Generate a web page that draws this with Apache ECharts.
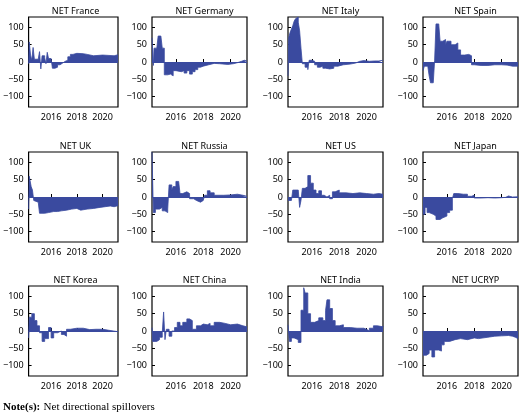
<!DOCTYPE html><html><head><meta charset="utf-8"><script src="https://cdn.jsdelivr.net/npm/echarts@6/dist/echarts.min.js"></script></head><body style="margin:0"><div id="c" style="width:520px;height:415px"></div><script>
const names=["NET France","NET Germany","NET Italy","NET Spain","NET UK","NET Russia","NET US","NET Japan","NET Korea","NET China","NET India","NET UCRYP"];
const france=[[2014.25,-5],[2014.3,58],[2014.4,20],[2014.5,5],[2014.6,42],[2014.7,8],[2015.0,8],[2015.1,30],[2015.2,-20],[2015.3,18],[2015.5,12],[2015.6,-5],[2015.7,28],[2015.8,10],[2016.0,10],[2016.1,-18],[2016.3,-15],[2016.5,-8],[2016.7,-3],[2016.9,2],[2017.1,5],[2017.3,15],[2017.5,22],[2017.7,25],[2018.0,24],[2018.5,22],[2018.8,18],[2019.3,20],[2020.0,19],[2020.5,18],[2020.9,21],[2021.2,21]];
const germany=[[2014.25,70],[2014.35,-10],[2014.4,40],[2014.6,45],[2014.7,75],[2014.9,70],[2015.0,40],[2015.15,-37],[2015.4,-35],[2015.6,-40],[2015.8,-25],[2016.0,-28],[2016.4,-25],[2016.6,-32],[2016.8,-25],[2017.0,-35],[2017.2,-28],[2017.4,-22],[2017.6,-15],[2017.8,-12],[2018.0,-8],[2018.4,-4],[2018.8,-5],[2019.2,-7],[2019.8,-5],[2020.2,-2],[2020.5,2],[2020.8,5],[2021.0,3],[2021.2,3]];
const italy=[[2014.25,-40],[2014.3,70],[2014.4,85],[2014.5,95],[2014.6,105],[2014.7,118],[2014.8,125],[2014.9,130],[2015.0,115],[2015.1,90],[2015.2,40],[2015.3,-5],[2015.5,-15],[2015.7,-22],[2015.8,5],[2016.0,2],[2016.2,-8],[2016.4,-15],[2016.6,-12],[2016.8,-18],[2017.0,-20],[2017.3,-18],[2017.6,-12],[2017.9,-8],[2018.3,-6],[2018.8,-3],[2019.2,2],[2019.5,4],[2019.8,2],[2020.2,3],[2020.6,3],[2020.9,5],[2021.2,6]];
const spain=[[2014.25,-25],[2014.35,-12],[2014.6,-15],[2014.7,-40],[2014.8,-60],[2015.0,-55],[2015.1,5],[2015.2,110],[2015.4,105],[2015.5,60],[2015.7,65],[2015.9,50],[2016.0,60],[2016.3,50],[2016.6,55],[2016.8,35],[2017.0,20],[2017.3,22],[2017.6,18],[2017.8,-8],[2018.0,-10],[2018.5,-10],[2019.0,-8],[2019.5,-8],[2020.0,-9],[2020.4,-12],[2020.8,-12],[2021.2,-12]];
const uk=[[2014.25,-35],[2014.3,60],[2014.45,30],[2014.55,20],[2014.65,-10],[2014.75,-15],[2015.0,-18],[2015.1,-47],[2015.5,-45],[2015.8,-42],[2016.2,-42],[2016.5,-40],[2016.8,-38],[2017.2,-35],[2017.6,-33],[2018.0,-38],[2018.3,-35],[2018.8,-33],[2019.3,-30],[2019.8,-28],[2020.2,-26],[2020.6,-28],[2020.9,-25],[2021.2,-25]];
const russia=[[2014.25,130],[2014.35,-45],[2014.5,-35],[2014.8,-30],[2015.0,-40],[2015.2,-45],[2015.4,-35],[2015.5,35],[2015.7,20],[2015.8,30],[2016.0,45],[2016.2,40],[2016.3,10],[2016.5,15],[2016.8,10],[2017.0,-5],[2017.3,-10],[2017.5,-15],[2017.8,-10],[2018.0,-5],[2018.1,5],[2018.3,18],[2018.5,12],[2018.8,5],[2019.5,6],[2020.0,8],[2020.5,5],[2020.9,2],[2021.2,2]];
const us=[[2014.25,-10],[2014.5,-8],[2014.6,20],[2015.0,20],[2015.1,-30],[2015.2,-10],[2015.3,25],[2015.5,30],[2015.7,62],[2015.9,40],[2016.1,20],[2016.3,10],[2016.5,18],[2016.7,5],[2016.9,0],[2017.1,5],[2017.3,-5],[2017.5,15],[2017.7,20],[2018.0,12],[2018.5,10],[2019.0,12],[2019.5,10],[2020.0,8],[2020.5,10],[2020.9,8],[2021.2,8]];
const japan=[[2014.25,-50],[2014.4,-30],[2014.55,-45],[2014.7,-50],[2015.0,-55],[2015.2,-65],[2015.5,-60],[2015.7,-55],[2016.0,-45],[2016.2,-38],[2016.4,-5],[2016.5,10],[2016.8,8],[2017.2,8],[2017.5,2],[2017.8,5],[2018.0,-3],[2018.5,-2],[2019.0,-3],[2019.5,-2],[2020.0,-1],[2020.3,3],[2020.5,0],[2020.8,1],[2021.2,2]];
const korea=[[2014.25,-20],[2014.3,40],[2014.5,50],[2014.7,30],[2014.9,15],[2015.1,-5],[2015.3,-30],[2015.5,-22],[2015.8,10],[2016.0,-20],[2016.2,-5],[2016.5,0],[2016.8,-10],[2017.0,-15],[2017.2,5],[2017.5,8],[2018.0,8],[2018.5,4],[2019.0,5],[2019.5,5],[2020.0,2],[2020.5,-2],[2021.2,-3]];
const china=[[2014.25,10],[2014.3,-30],[2014.6,-25],[2014.8,-18],[2015.0,-5],[2015.1,55],[2015.2,-25],[2015.3,5],[2015.5,-15],[2015.7,0],[2015.9,10],[2016.1,25],[2016.3,15],[2016.5,25],[2016.8,35],[2017.0,30],[2017.2,5],[2017.5,15],[2017.8,20],[2018.0,18],[2018.3,22],[2018.5,15],[2018.8,25],[2019.2,22],[2019.6,18],[2020.0,20],[2020.5,15],[2020.9,12],[2021.2,12]];
const india=[[2014.25,18],[2014.35,-30],[2014.5,-20],[2014.7,-25],[2015.0,-33],[2015.2,60],[2015.4,125],[2015.5,110],[2015.7,50],[2015.9,25],[2016.2,30],[2016.5,38],[2016.8,30],[2017.0,60],[2017.1,90],[2017.3,65],[2017.5,30],[2017.7,15],[2018.0,18],[2018.3,10],[2018.8,8],[2019.3,8],[2019.8,5],[2020.0,0],[2020.2,8],[2020.5,15],[2020.8,12],[2021.2,15]];
const ucryp=[[2014.25,-70],[2014.5,-65],[2014.7,-55],[2014.9,-75],[2015.1,-55],[2015.4,-58],[2015.6,-40],[2015.8,-30],[2016.2,-25],[2016.6,-22],[2017.0,-25],[2017.5,-20],[2018.0,-22],[2018.3,-18],[2019.0,-15],[2019.5,-14],[2020.0,-13],[2020.5,-15],[2020.8,-18],[2021.0,-22],[2021.2,-22]];
const seriesData=[france,germany,italy,spain,uk,russia,us,japan,korea,china,india,ucryp];
const yTicks=[-100,-50,0,50,100];
const xTicks=[2016,2018,2020];
const lefts=[23,152,288,423], tops=[17,152,286], W=95, H=90;
const grid=[],xAxis=[],yAxis=[],series=[],title=[];
const col='#3a4a9f';
const font='Noto Sans';
seriesData.forEach((d,i)=>{
 const r=Math.floor(i/4),c=i%4;
 grid.push({left:lefts[c],top:tops[r],width:W,height:H,show:true,borderColor:'#000',borderWidth:1.2,backgroundColor:'#fff'});
 title.push({text:names[i],left:lefts[c]+W/2,top:tops[r]-15,textAlign:'center',textStyle:{fontSize:9,fontWeight:'normal',fontFamily:font,color:'#000'}});
 xAxis.push({gridIndex:i,type:'value',min:2014.25,max:2021.2,axisLine:{show:false},splitLine:{show:false},
  axisTick:{show:true,inside:true,length:3,customValues:xTicks,lineStyle:{color:'#000'}},
  axisLabel:{fontSize:9,fontFamily:font,color:'#000',margin:6,customValues:xTicks,formatter:v=>String(v)}});
 yAxis.push({gridIndex:i,type:'value',min:-130,max:130,axisLine:{show:false},splitLine:{show:false},
  axisTick:{show:true,inside:true,length:3,customValues:yTicks,lineStyle:{color:'#000'}},
  axisLabel:{fontSize:9,fontFamily:font,color:'#000',margin:5,customValues:yTicks,formatter:v=>(v<0?'\u2212'+(-v):String(v))}});
 series.push({type:'line',xAxisIndex:i,yAxisIndex:i,step:'end',symbol:'none',data:d,lineStyle:{color:col,width:0.8},areaStyle:{color:col,opacity:1},
  markLine:{silent:true,symbol:'none',label:{show:false},lineStyle:{color:col,width:1,type:'solid'},data:[{yAxis:0}]}});
});
const ch=echarts.init(document.getElementById('c'));
ch.setOption({animation:false,backgroundColor:'#fff',title,grid,xAxis,yAxis,series,
 graphic:[{type:'text',left:3,top:401,style:{rich:{b:{fontWeight:'bold',fontFamily:'Liberation Serif',fontSize:11},n:{fontFamily:'Liberation Serif',fontSize:11}},text:'{b|Note(s):} {n|Net directional spillovers}',fill:'#000'}}]});
</script></body></html>
